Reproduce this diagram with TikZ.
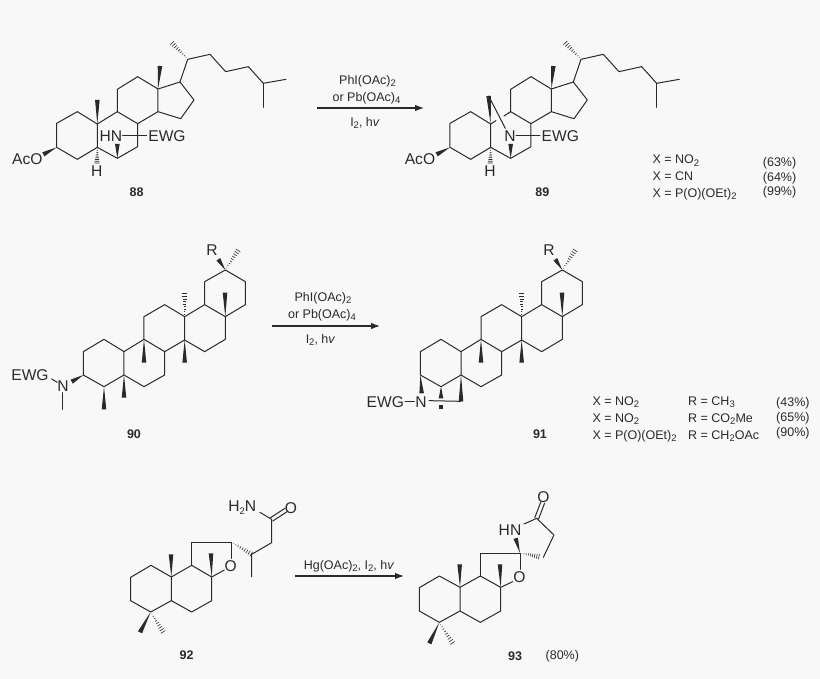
\documentclass[tikz,border=0pt]{standalone}
\usepackage{fontspec}
\setmainfont{Liberation Sans}
\usetikzlibrary{calc,arrows.meta}
\definecolor{pagebg}{HTML}{F8F8F8}
\definecolor{ink}{HTML}{2A2A2A}
\newcommand\sbs[1]{\raisebox{-.34ex}{\fontsize{9.5}{9.5}\selectfont #1}}
\newcommand\wdg[2]{\fill[ink] (#1) -- ($(#2)!2.3pt!90:(#1)$) -- ($(#2)!2.3pt!-90:(#1)$) -- cycle;}
\newcommand\hsh[2]{\foreach \t in {0.10,0.21,0.32,0.43,0.54,0.65,0.76,0.87,0.98}{\draw[hashline] ($(#1)!\t!(#2)!{\t*2.7pt}!90:(#2)$) -- ($(#1)!\t!(#2)!{\t*2.7pt}!-90:(#2)$);}}
\newcommand\pts[1]{\foreach \n/\x/\y in {#1}{\coordinate (\n) at (\x,\y);}}
\tikzset{
  bond/.style={draw=ink,line width=1pt,line join=round,line cap=round},
  hashline/.style={draw=ink,line width=0.6pt},
  atom/.style={text=ink,inner sep=0pt,font=\fontsize{15.6}{17}\selectfont},
  lab/.style={text=ink,inner sep=0pt,font=\fontsize{12.5}{14}\selectfont},
  num/.style={text=ink,inner sep=0pt,font=\bfseries\fontsize{12.5}{14}\selectfont},
  rowtxt/.style={lab,anchor=base west},
  mol/.style={x=0.33333pt,y=-0.33333pt},
  rxn/.style={draw=ink,line width=1.1pt,-{Latex[length=9pt,width=6.5pt]}}
}
% steroid skeleton shared by 88 and 89 (crop units)
\newcommand\steroid{%
  \pts{c1/232/275,c2/170/310,c3/170/382,c4/232/418,c5/292/382,c10/292/312,c9/352/275,c8/413/311,c7/413/380,c6/352/415,c11/352/208,c12/413/170,c13/474/207,c14/474/275,c17/540/186,c16/582/240,c15/542/296,c20/563/118,c21/515/68,c22/630/103,c23/677/155,c24/745/140,c25/790/190,c26/858/178,c27/790/262,me18/480/138,oa/130/403,hh/291/430,w6/352/372}
  \draw[bond] (c10)--(c1)--(c2)--(c3)--(c4)--(c5)--(c10);
  \draw[bond] (c5)--(c6)--(c7)--(c8)--(c9)--(c11)--(c12)--(c13)--(c14)--(c8);
  \draw[bond] (c13)--(c17)--(c16)--(c15)--(c14);
  \draw[bond] (c17)--(c20)--(c22)--(c23)--(c24)--(c25)--(c26);
  \draw[bond] (c25)--(c27);
  \wdg{c13}{me18}\wdg{c3}{oa}\wdg{c6}{w6}
  \hsh{c20}{c21}\hsh{c5}{hh}
}
% triterpene skeleton shared by 90 and 91 (crop units of 90)
\newcommand\terpene{%
  \pts{a/312/328,b/250/365,c/250/435,d/312/470,e/372/435,f/372/365,g/432/328,h/494/365,i/494/435,j/432/470,k/432/260,l/494/224,m/554/260,n/554/330,o/614/224,p/676/260,q/676/328,r/614/365,s/614/155,t/676/120,u/736/155,v/736/224,mg/432/398,mn/554/398,mm/554/190,mp/675/188,wr/655/88,mt/715/60}
  \draw[bond] (c)--(b)--(a)--(f)--(e)--(d)--(c);
  \draw[bond] (f)--(g)--(h)--(i)--(j)--(e);
  \draw[bond] (g)--(k)--(l)--(m)--(n)--(h);
  \draw[bond] (m)--(o)--(p)--(q)--(r)--(n);
  \draw[bond] (o)--(s)--(t)--(u)--(v)--(p);
  \wdg{g}{mg}\wdg{n}{mn}\wdg{p}{mp}\wdg{t}{wr}
  \hsh{m}{mm}\hsh{t}{mt}
  \node[atom] (rr) at (636,60) {R};
}
\begin{document}
\begin{tikzpicture}[x=1pt,y=-1pt]
\fill[pagebg] (0,0) rectangle (820,679);
\useasboundingbox (0,0) rectangle (820,679);

% ---------- 88
\begin{scope}[mol,name prefix=m88-,shift={(0pt,-20pt)}]
  \steroid
  \pts{n1/368/347,n2/440/347,me19/292/240}
  \draw[bond] (c10)--(c9);
  \draw[bond] (n1)--(n2);
  \wdg{c10}{me19}
  \node[atom] (hn) at (333,347) {HN};
  \node[atom] (ewg) at (501,347) {EWG};
  \node[atom] (aco) at (82,417) {AcO};
  \node[atom] (h) at (290,452) {H};
  \node[num] (lbl) at (410,517) {88};
\end{scope}

% ---------- 89
\begin{scope}[mol,name prefix=m89-,shift={(393.33pt,-20pt)}]
  \steroid
  \pts{n1/368/347,n2/440/347,br/286/228,nb/336/325,g1/332/288,g2/308/302}
  \draw[bond] (c9)--(g1);
  \draw[bond] (g2)--(c10);
  \draw[bond] (n1)--(n2);
  \draw[bond] (br)--(nb);
  \wdg{c10}{br}
  \node[atom] (nn) at (350,347) {N};
  \node[atom] (ewg) at (501,347) {EWG};
  \node[atom] (aco) at (80,417) {AcO};
  \node[atom] (h) at (290,452) {H};
  \node[num] (lbl) at (447,517) {89};
\end{scope}

% ---------- 90
\begin{scope}[mol,name prefix=m90-,shift={(0pt,-230pt)}]
  \terpene
  \pts{me/372/503,md/312/538,wn/215/455,nm1/189/488,nm2/189/538,ne1/155/447,ne2/172/457}
  \wdg{e}{me}\wdg{d}{md}\wdg{c}{wn}
  \draw[bond] (nm1)--(nm2);
  \draw[bond] (ne1)--(ne2);
  \node[atom] (nn) at (189,468) {N};
  \node[atom] (ewg) at (90,436) {EWG};
  \node[num] (lbl) at (402,612) {90};
\end{scope}

% ---------- 91
\begin{scope}[mol,name prefix=m91-,shift={(337pt,-230pt)}]
  \terpene
  \pts{wc/254/490,wd/312/505,we/372/514,n3/276/512,n4/372/514,ne1/204/516,ne2/232/516}
  \wdg{c}{wc}\wdg{d}{wd}\wdg{e}{we}
  \fill[ink] (307,525) rectangle (318,538);
  \draw[bond] (n3)--(n4);
  \draw[bond] (ne1)--(ne2);
  \node[atom] (nn) at (252,516) {N};
  \node[atom] (ewg) at (145,516) {EWG};
  \node[num] (lbl) at (609,612) {91};
\end{scope}

% ---------- 92
\begin{scope}[mol,name prefix=m92-,shift={(110pt,-485pt)}]
  \pts{a/123/241,b/62/277,c/62/347,d/122/381,e/184/347,f/184/276,g/245/241,h/305/276,i/305/347,j/245/381,k/245/172,l/365/172,o1/365/220,o2/343/255,mf/183/208,mh/303/205,md1/90/442,md2/160/442,m/425/208,mm/425/275,n/485/173,q/485/103,q1/528/75,nh/450/82}
  \draw[bond] (f)--(a)--(b)--(c)--(d)--(e)--(f)--(g)--(h)--(i)--(j)--(e);
  \draw[bond] (g)--(k)--(l)--(o1);
  \draw[bond] (h)--(o2);
  \draw[bond] (mm)--(m)--(n)--(q)--(nh);
  \draw[bond] ($(q)!2pt!90:(q1)$)--($(q1)!2pt!-90:(q)$);
  \draw[bond] ($(q)!2pt!-90:(q1)$)--($(q1)!2pt!90:(q)$);
  \wdg{f}{mf}\wdg{h}{mh}\wdg{d}{md1}
  \hsh{d}{md2}\hsh{l}{m}
  \node[atom] (ox) at (362,243) {O};
  \node[atom] (oc) at (543,68) {O};
  \node[atom] (nh2) at (397,68) {H\sbs{2}N};
  \node[num] (lbl) at (230,512) {92};
\end{scope}

% ---------- 93
\begin{scope}[mol,name prefix=m93-,shift={(400pt,-480pt)}]
  \pts{a/118/288,b/58/323,c/58/393,d/118/427,e/180/393,f/180/322,g/241/288,h/302/322,i/302/393,j/241/427,k/241/219,l/360/219,o1/360/268,o2/338/305,mf/179/253,mh/300/253,md1/88/490,md2/158/490,wn/347/175,s/430/232,t/462/165,q/410/115,nh/372/132,q1/428/68,hs/418/230}
  \draw[bond] (f)--(a)--(b)--(c)--(d)--(e)--(f)--(g)--(h)--(i)--(j)--(e);
  \draw[bond] (g)--(k)--(l)--(o1);
  \draw[bond] (h)--(o2);
  \draw[bond] (s)--(t)--(q)--(nh);
  \draw[bond] ($(q)!2pt!90:(q1)$)--($(q1)!2pt!-90:(q)$);
  \draw[bond] ($(q)!2pt!-90:(q1)$)--($(q1)!2pt!90:(q)$);
  \wdg{f}{mf}\wdg{h}{mh}\wdg{d}{md1}\wdg{l}{wn}
  \hsh{d}{md2}\hsh{l}{hs}
  \node[atom] (ox) at (358,290) {O};
  \node[atom] (oc) at (430,50) {O};
  \node[atom] (hn) at (330,150) {HN};
  \node[num] (lbl) at (345,530) {93};
  \node[lab] (yld) at (487,530) {(80\%)};
\end{scope}

% ---------- reaction arrows
\coordinate (r1s) at (316.7,108);\coordinate (r1e) at (424,108);
\coordinate (r2s) at (271.5,326);\coordinate (r2e) at (380,326);
\coordinate (r3s) at (295,576);\coordinate (r3e) at (404,576);
\draw[rxn] (r1s)--(r1e);
\draw[rxn] (r2s)--(r2e);
\draw[rxn] (r3s)--(r3e);
\node[lab] (t1a) at (367.5,81) {PhI(OAc)\sbs{2}};
\node[lab] (t1b) at (366.5,98) {or Pb(OAc)\sbs{4}};
\node[lab] (t1c) at (365,123) {I\sbs{2}, h\textit{v}};
\node[lab] (t2a) at (323,298) {PhI(OAc)\sbs{2}};
\node[lab] (t2b) at (322,315) {or Pb(OAc)\sbs{4}};
\node[lab] (t2c) at (320.5,340) {I\sbs{2}, h\textit{v}};
\node[lab] (t3a) at (349,566) {Hg(OAc)\sbs{2}, I\sbs{2}, h\textit{v}};

% ---------- yield tables
\node[rowtxt] (x1) at (652.3,164) {X = NO\sbs{2}};
\node[rowtxt] (x2) at (652.3,180.7) {X = CN};
\node[rowtxt] (x3) at (652.3,197.3) {X = P(O)(OEt)\sbs{2}};
\node[rowtxt] (y1) at (762.7,166.7) {(63\%)};
\node[rowtxt] (y2) at (762.7,181.7) {(64\%)};
\node[rowtxt] (y3) at (762.7,196) {(99\%)};
\node[rowtxt] (x4) at (592.3,405) {X = NO\sbs{2}};
\node[rowtxt] (x5) at (592.3,422.7) {X = NO\sbs{2}};
\node[rowtxt] (x6) at (592.3,439) {X = P(O)(OEt)\sbs{2}};
\node[rowtxt] (r4) at (688,405) {R = CH\sbs{3}};
\node[rowtxt] (r5) at (688,422.7) {R = CO\sbs{2}Me};
\node[rowtxt] (r6) at (688,439) {R = CH\sbs{2}OAc};
\node[rowtxt] (y4) at (776,406.7) {(43\%)};
\node[rowtxt] (y5) at (776,421) {(65\%)};
\node[rowtxt] (y6) at (776,436) {(90\%)};
\end{tikzpicture}
\end{document}
